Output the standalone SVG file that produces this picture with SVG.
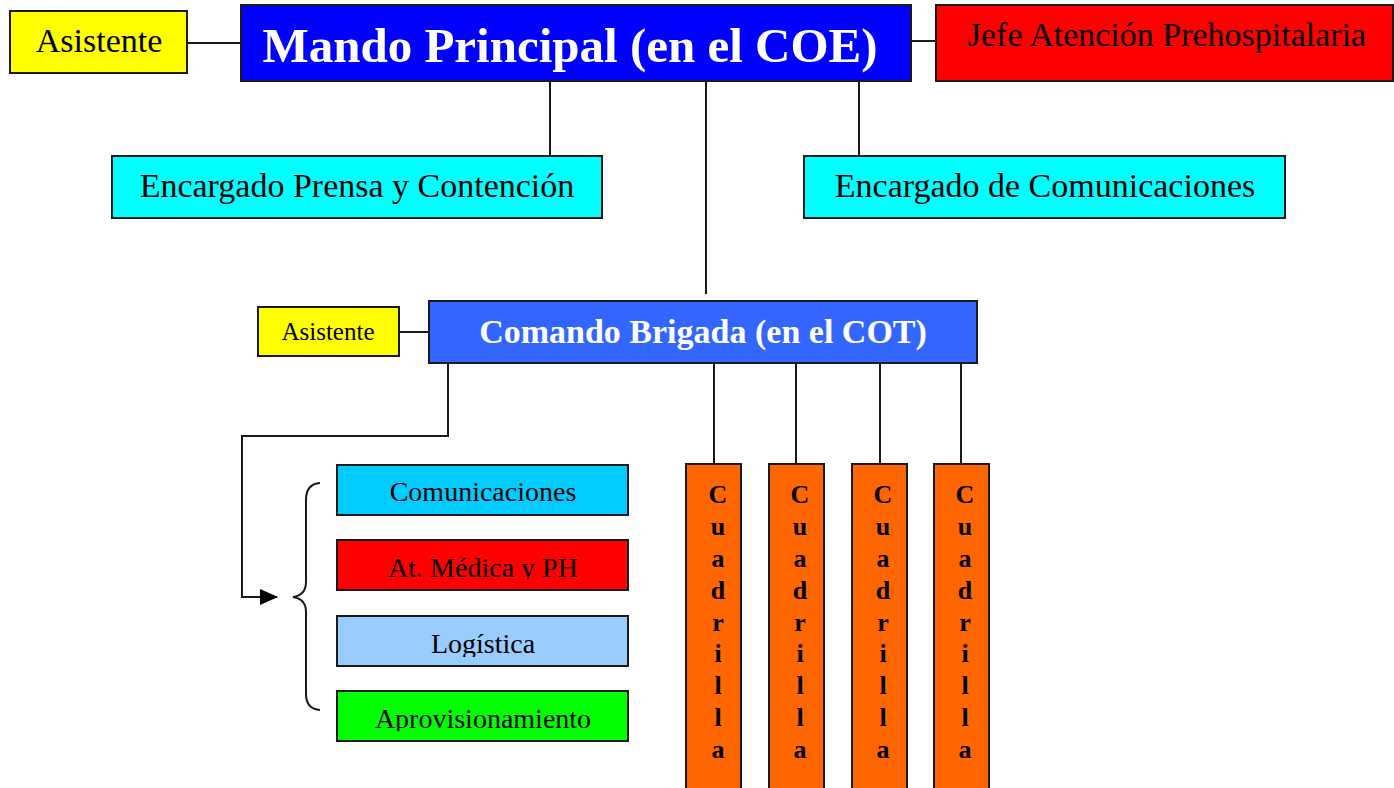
<svg xmlns="http://www.w3.org/2000/svg" width="1394" height="788" viewBox="0 0 1394 788">
<style>
.box{stroke:#1a1a1a;stroke-width:2}
.t{font-family:"Liberation Serif","Times New Roman",serif;fill:#000;text-anchor:middle}
.tw{font-family:"Liberation Serif","Times New Roman",serif;fill:#fff;font-weight:bold;text-anchor:middle}
.cb{font-family:"Liberation Serif","Times New Roman",serif;font-weight:bold;font-size:26px;fill:#000;text-anchor:middle}
.ln{stroke:#1a1a1a;stroke-width:2;fill:none}
</style>
<defs>
<marker id="arr" markerWidth="18" markerHeight="16" refX="17" refY="8" orient="auto" markerUnits="userSpaceOnUse">
<path d="M0,0 L18,8 L0,16 z" fill="#000"/>
</marker>
<clipPath id="c1"><rect x="337" y="540" width="291" height="40"/></clipPath>
<clipPath id="c2"><rect x="337" y="616" width="291" height="41"/></clipPath>
<clipPath id="c3"><rect x="337" y="691" width="291" height="40"/></clipPath>
</defs>
<rect width="1394" height="788" fill="#fff"/>
<g id="connectors">
<line class="ln" x1="187" y1="43" x2="241" y2="43"/>
<line class="ln" x1="911" y1="41" x2="936" y2="41"/>
<line class="ln" x1="550" y1="81" x2="550" y2="156"/>
<line class="ln" x1="859" y1="81" x2="859" y2="156"/>
<line class="ln" x1="706" y1="81" x2="706" y2="294"/>
<line class="ln" x1="399" y1="332" x2="429" y2="332"/>
<polyline class="ln" points="448,361 448,436 242,436 242,597 277,597" marker-end="url(#arr)"/>
<path class="ln" d="M320,483 Q306,484 306,500 L306,582 Q306,595 293,597 Q306,599 306,612 L306,694 Q306,709 320,710"/>
<line class="ln" x1="714" y1="363" x2="714" y2="464"/>
<line class="ln" x1="796" y1="363" x2="796" y2="464"/>
<line class="ln" x1="880" y1="363" x2="880" y2="464"/>
<line class="ln" x1="961" y1="363" x2="961" y2="464"/>
</g>
<g id="asistente1"><rect class="box" x="10" y="11" width="177" height="62" fill="#FFFF00"/><text class="t" x="99" y="52" font-size="34">Asistente</text></g>
<g id="mando"><rect class="box" x="241" y="5" width="670" height="76" fill="#0000FF"/><text class="tw" x="570" y="62" font-size="49">Mando Principal (en el COE)</text></g>
<g id="jefe"><rect class="box" x="936" y="5" width="457" height="76" fill="#FF0000"/><text class="t" x="1167" y="46" font-size="34">Jefe Atención Prehospitalaria</text></g>
<g id="prensa"><rect class="box" x="112" y="156" width="490" height="62" fill="#00FFFF"/><text class="t" x="357" y="197" font-size="34">Encargado Prensa y Contención</text></g>
<g id="comunic"><rect class="box" x="804" y="156" width="481" height="62" fill="#00FFFF"/><text class="t" x="1045" y="197" font-size="34">Encargado de Comunicaciones</text></g>
<g id="asistente2"><rect class="box" x="258" y="307" width="141" height="49" fill="#FFFF00"/><text class="t" x="328" y="340" font-size="25">Asistente</text></g>
<g id="comando"><rect class="box" x="429" y="301" width="548" height="62" fill="#3366FF"/><text class="tw" x="703" y="343" font-size="34">Comando Brigada (en el COT)</text></g>
<g id="s-comunicaciones"><rect class="box" x="337" y="465" width="291" height="50" fill="#00CCFF"/><text class="t" x="483" y="501" font-size="28">Comunicaciones</text></g>
<g id="s-medica"><rect class="box" x="337" y="540" width="291" height="50" fill="#FF0000"/><text class="t" x="483" y="577" font-size="28" clip-path="url(#c1)">At. Médica y PH</text></g>
<g id="s-logistica"><rect class="box" x="337" y="616" width="291" height="50" fill="#99CCFF"/><text class="t" x="483" y="653" font-size="28" clip-path="url(#c2)">Logística</text></g>
<g id="s-aprov"><rect class="box" x="337" y="691" width="291" height="50" fill="#00FF00"/><text class="t" x="483" y="728" font-size="28" clip-path="url(#c3)">Aprovisionamiento</text></g>
<g id="cuadrilla1"><rect class="box" x="686" y="464" width="55" height="330" fill="#FF6600"/>
<text class="cb"><tspan x="718" y="503">C</tspan><tspan x="718" y="535">u</tspan><tspan x="718" y="567">a</tspan><tspan x="718" y="599">d</tspan><tspan x="718" y="631">r</tspan><tspan x="718" y="662">i</tspan><tspan x="718" y="694">l</tspan><tspan x="718" y="726">l</tspan><tspan x="718" y="758">a</tspan></text></g>
<g id="cuadrilla2"><rect class="box" x="769" y="464" width="55" height="330" fill="#FF6600"/>
<text class="cb"><tspan x="800" y="503">C</tspan><tspan x="800" y="535">u</tspan><tspan x="800" y="567">a</tspan><tspan x="800" y="599">d</tspan><tspan x="800" y="631">r</tspan><tspan x="800" y="662">i</tspan><tspan x="800" y="694">l</tspan><tspan x="800" y="726">l</tspan><tspan x="800" y="758">a</tspan></text></g>
<g id="cuadrilla3"><rect class="box" x="852" y="464" width="55" height="330" fill="#FF6600"/>
<text class="cb"><tspan x="883" y="503">C</tspan><tspan x="883" y="535">u</tspan><tspan x="883" y="567">a</tspan><tspan x="883" y="599">d</tspan><tspan x="883" y="631">r</tspan><tspan x="883" y="662">i</tspan><tspan x="883" y="694">l</tspan><tspan x="883" y="726">l</tspan><tspan x="883" y="758">a</tspan></text></g>
<g id="cuadrilla4"><rect class="box" x="934" y="464" width="55" height="330" fill="#FF6600"/>
<text class="cb"><tspan x="965" y="503">C</tspan><tspan x="965" y="535">u</tspan><tspan x="965" y="567">a</tspan><tspan x="965" y="599">d</tspan><tspan x="965" y="631">r</tspan><tspan x="965" y="662">i</tspan><tspan x="965" y="694">l</tspan><tspan x="965" y="726">l</tspan><tspan x="965" y="758">a</tspan></text></g>
</svg>
